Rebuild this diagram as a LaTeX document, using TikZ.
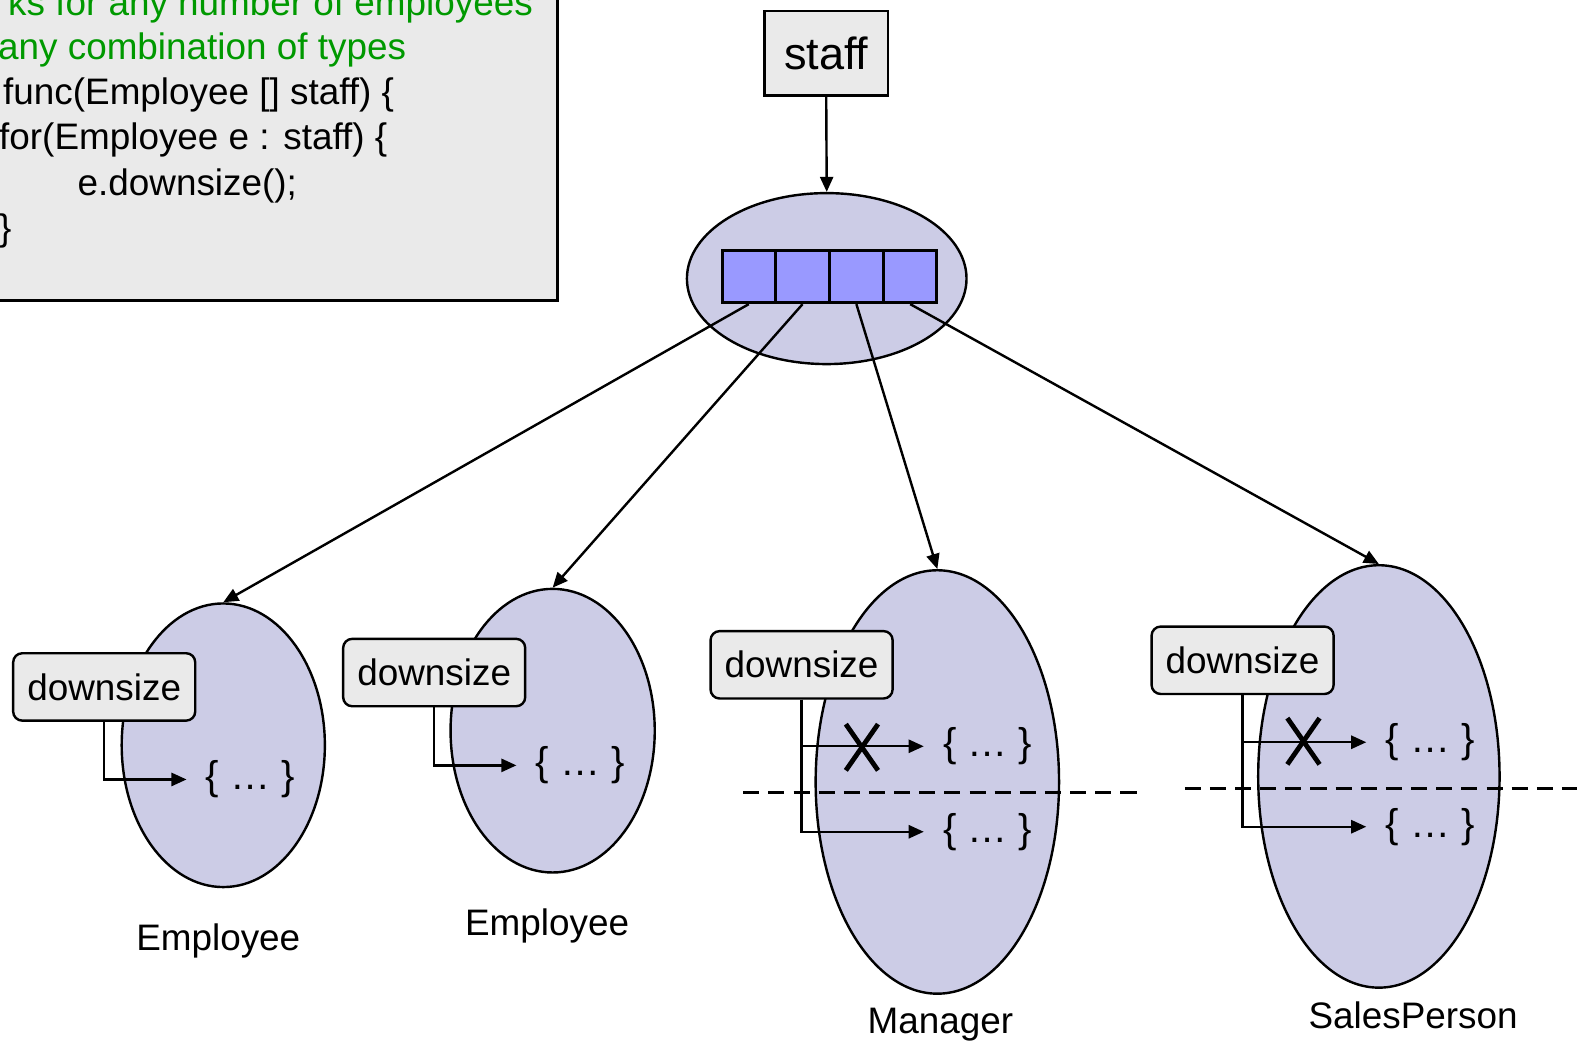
\documentclass[tikz,border=0pt]{standalone}
\usepackage{fontspec}
\setmainfont{Liberation Sans}
\usetikzlibrary{shapes.geometric,arrows.meta}
\definecolor{lav}{RGB}{204,204,230}
\definecolor{cellc}{RGB}{153,153,255}
\definecolor{boxg}{RGB}{234,234,234}
\definecolor{codegreen}{RGB}{0,153,0}
\begin{document}
\begin{tikzpicture}[x=1bp,y=-1bp,
  every node/.style={font=\fontsize{36.8}{45}\selectfont},
  obj/.style={ellipse,draw,line width=2.4bp,fill=lav,inner sep=0pt},
  cell/.style={rectangle,draw,line width=2.8bp,fill=cellc,minimum width=53bp,minimum height=52bp,inner sep=0pt},
  arr/.style={line width=2.4bp,-{Triangle[length=15bp,width=13bp]}},
  dsbox/.style={rectangle,rounded corners=9bp,draw,line width=2.4bp,fill=boxg,minimum width=181bp,minimum height=67bp,inner sep=0pt},
  body/.style={inner sep=0pt,inner xsep=19bp,font=\fontsize{40}{48}\selectfont},
  cross/.style={line width=4.8bp},
  divider/.style={line width=2.4bp,dash pattern=on 16bp off 9bp},
  code/.style={anchor=base west,inner sep=0pt},
  lbl/.style={anchor=base,inner sep=0pt}]
\useasboundingbox (0,0) rectangle (1568,1038);

% code box
\draw[line width=2.8bp,fill=boxg] (-20,-20) rectangle (554,299);
\node[code,anchor=base east,text=codegreen] (g1) at (530,15) {ks for any number of employees};
\node[code,text=codegreen] (g2) at (-2,59) {any combination of types};
\node[code] (k1) at (3,104) {func(Employee [] staff) \{};
\node[code] (k2) at (-1,149) {for(Employee e : staff) \{};
\node[code] (k3) at (77,194) {e.downsize();};
\node[code] (k4) at (-1,239) {\}};

% staff reference and array
\node[rectangle,draw,line width=2.4bp,fill=boxg,minimum width=123bp,minimum height=84bp,inner sep=0pt,font=\fontsize{45}{54}\selectfont] (staff) at (821.5,53) {staff};
\node[obj,minimum width=278bp,minimum height=170bp] (array) at (822,277) {};
\node[cell] (c1) at (744.5,275) {};
\node[cell] (c2) at (798,275) {};
\node[cell] (c3) at (851.5,275) {};
\node[cell] (c4) at (905,275) {};
\draw[arr] (staff.south) -- (array.north);

% objects
\node[obj,minimum width=202bp,minimum height=282bp] (emp1) at (222,741) {};
\node[obj,minimum width=203bp,minimum height=282bp] (emp2) at (549.5,726.5) {};
\node[obj,minimum width=242bp,minimum height=421bp] (mgr) at (932,777.5) {};
\node[obj,minimum width=240bp,minimum height=420bp] (sp) at (1371,772) {};

\draw[arr] (c1.south) -- (emp1.north);
\draw[arr] (c2.south) -- (emp2.north);
\draw[arr] (c3.south) -- (mgr.north);
\draw[arr] (c4.south) -- (sp.north);

\node[lbl] (l1) at (217,945) {Employee};
\node[lbl] (l2) at (544,930) {Employee};
\node[lbl] (l3) at (935,1028) {Manager};
\node[lbl] (l4) at (1405,1023) {SalesPerson};

% dividers
\coordinate (dmL) at (739,788);
\coordinate (dmR) at (1130,788);
\coordinate (dsL) at (1178,784);
\coordinate (dsR) at (1580,784);
\draw[divider] (dmL) -- (dmR);
\draw[divider] (dsL) -- (dsR);

% method bodies
\node[body] (b1) at (249,775) {\{ … \}};
\node[body] (b2) at (577,761) {\{ … \}};
\node[body] (b3a) at (982,742) {\{ … \}};
\node[body] (b3b) at (982,827) {\{ … \}};
\node[body] (b4a) at (1422,738) {\{ … \}};
\node[body] (b4b) at (1422,822) {\{ … \}};

% downsize boxes
\node[dsbox] (d1) at (103.6,683) {downsize};
\node[dsbox] (d2) at (431.7,668.7) {downsize};
\node[dsbox] (d3) at (797,661) {downsize};
\node[dsbox] (d4) at (1235.5,656.5) {downsize};

\draw[arr] (d1.south) |- (b1.west);
\draw[arr] (d2.south) |- (b2.west);
\draw[arr] (d3.south) |- (b3a.west);
\draw[arr] (d3.south) |- (b3b.west);
\draw[arr] (d4.south) |- (b4a.west);
\draw[arr] (d4.south) |- (b4b.west);

% crosses
\draw[cross] (841,720) -- (873,766);
\draw[cross] (841,766) -- (873,720);
\draw[cross] (1280,714) -- (1312,760);
\draw[cross] (1280,760) -- (1312,714);
\end{tikzpicture}
\end{document}
